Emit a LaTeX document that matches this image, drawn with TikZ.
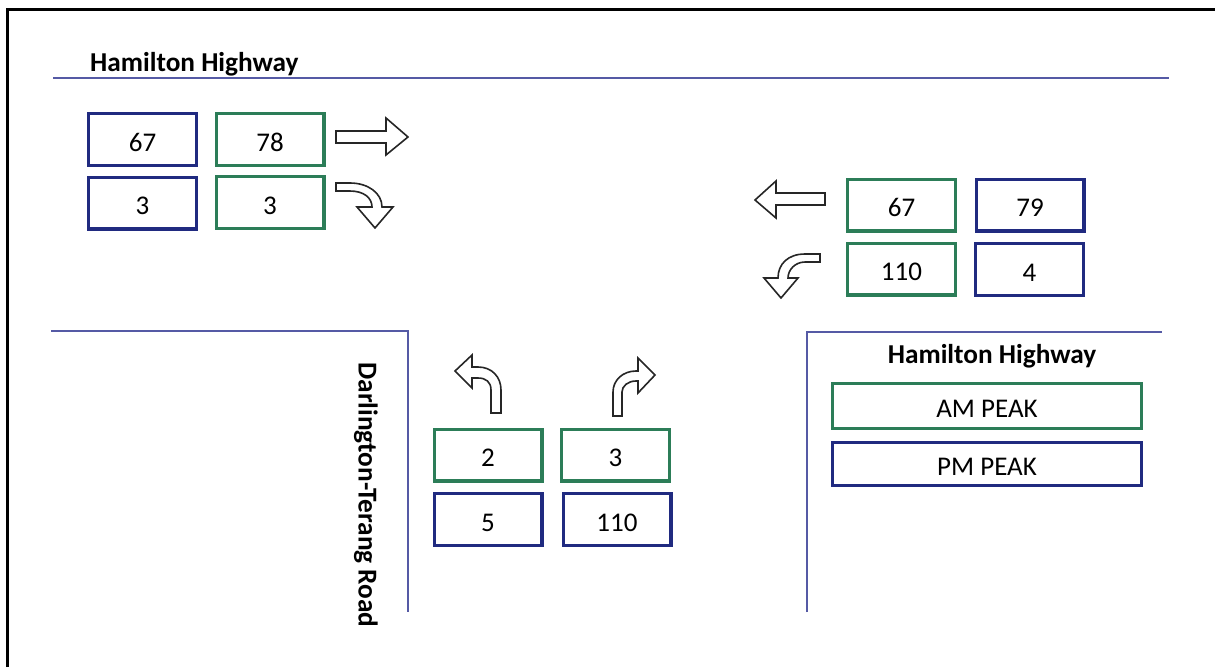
\documentclass[tikz,border=0pt]{standalone}
\usepackage{fontspec}
\setmainfont{Carlito}
\definecolor{grn}{RGB}{44,125,88}
\definecolor{nvy}{RGB}{32,42,128}
\definecolor{road}{RGB}{85,90,165}
\tikzset{
  cnt/.style={draw, line width=3.4pt, minimum width=107.6pt, minimum height=51.6pt, inner sep=0pt,
    text height=23pt, text depth=0pt, font=\fontsize{27}{31}\selectfont},
  am/.style={cnt, draw=grn},
  pm/.style={cnt, draw=nvy},
  roadline/.style={draw=road, line width=2pt},
  frameline/.style={draw=black, line width=3pt},
  blockarrow/.style={draw=black!85, fill=white, line width=1.6pt, line join=miter},
  lbl/.style={font=\fontsize{27.3}{31}\selectfont\bfseries, inner sep=0pt}
}
\begin{document}
\begin{tikzpicture}[x=1pt, y=-1pt]
\useasboundingbox (0,0) rectangle (1215,667);
% frame
\coordinate (f1) at (7,667);
\coordinate (f2) at (7,9);
\coordinate (f3) at (1215,9);
\draw[frameline] (f1) -- (f2) -- (f3);
% roads
\coordinate (r1) at (53,78);
\coordinate (r2) at (1169,78);
\draw[roadline] (r1) -- (r2);
\coordinate (r3) at (51,331);
\coordinate (r4) at (408,331);
\coordinate (r5) at (408,612);
\draw[roadline] (r3) -- (r4) -- (r5);
\coordinate (r6) at (807,612);
\coordinate (r7) at (807,332);
\coordinate (r8) at (1162,332);
\draw[roadline] (r6) -- (r7) -- (r8);
% labels
\node[lbl, anchor=base west] (hhtop) at (90,71) {Hamilton Highway};
\node[lbl, anchor=base] (hhright) at (992,363) {Hamilton Highway};
\node[lbl, rotate=-90] (dtr) at (366,495) {Darlington-Terang Road};
% top-left counts
\node[pm] (tl1) at (142.5,139.5) {67};
\node[am] (tl2) at (270,139.5) {78};
\node[pm] (tl3) at (142.5,203) {3};
\node[am] (tl4) at (270,202.5) {3};
% right counts
\node[am] (rt1) at (901.5,205) {67};
\node[pm] (rt2) at (1030,205) {79};
\node[am] (rt3) at (901.5,269) {110};
\node[pm] (rt4) at (1029.5,269.5) {4};
% bottom counts
\node[am] (bt1) at (488,455) {2};
\node[am] (bt2) at (615.5,455) {3};
\node[pm] (bt3) at (488,519.5) {5};
\node[pm] (bt4) at (617,519.5) {110};
% legend
\node[am, minimum width=308.6pt, minimum height=44.6pt] (amk) at (987,406) {AM PEAK};
\node[pm, minimum width=308.6pt, minimum height=42.6pt] (pmk) at (987,464) {PM PEAK};
% arrows
\draw[blockarrow] (336,131) -- (386,131) -- (386,118) -- (408,137) -- (386,155) -- (386,143) -- (336,143) -- cycle;
\draw[blockarrow] (336,183) -- (350,183) .. controls (368,183) and (382,193) .. (382,207) -- (393,207) -- (375,228) -- (357,207) -- (372,207) .. controls (372,198) and (364,191) .. (350,191) -- (336,191) -- cycle;
\draw[blockarrow] (825,193) -- (776,193) -- (776,181) -- (755,200) -- (776,218) -- (776,205) -- (825,205) -- cycle;
\draw[blockarrow] (820,254) -- (805,254) .. controls (788,254) and (778,264) .. (778,278) -- (764,278) -- (781,298) -- (798,278) -- (788,278) .. controls (788,270) and (795,262) .. (805,262) -- (820,262) -- cycle;
\draw[blockarrow] (491,413) -- (491,390) .. controls (491,382) and (486,378) .. (478,378) -- (472,378) -- (472,388) -- (455,371) -- (472,355) -- (472,367) -- (478,367) .. controls (492,367) and (501,377) .. (501,390) -- (501,413) -- cycle;
\draw[blockarrow] (613,416) -- (613,392) .. controls (613,380) and (623,371) .. (636,371) -- (638,371) -- (638,358) -- (655,375) -- (638,393) -- (638,381) -- (636,381) .. controls (628,381) and (622,386) .. (622,392) -- (622,416) -- cycle;
\end{tikzpicture}
\end{document}
